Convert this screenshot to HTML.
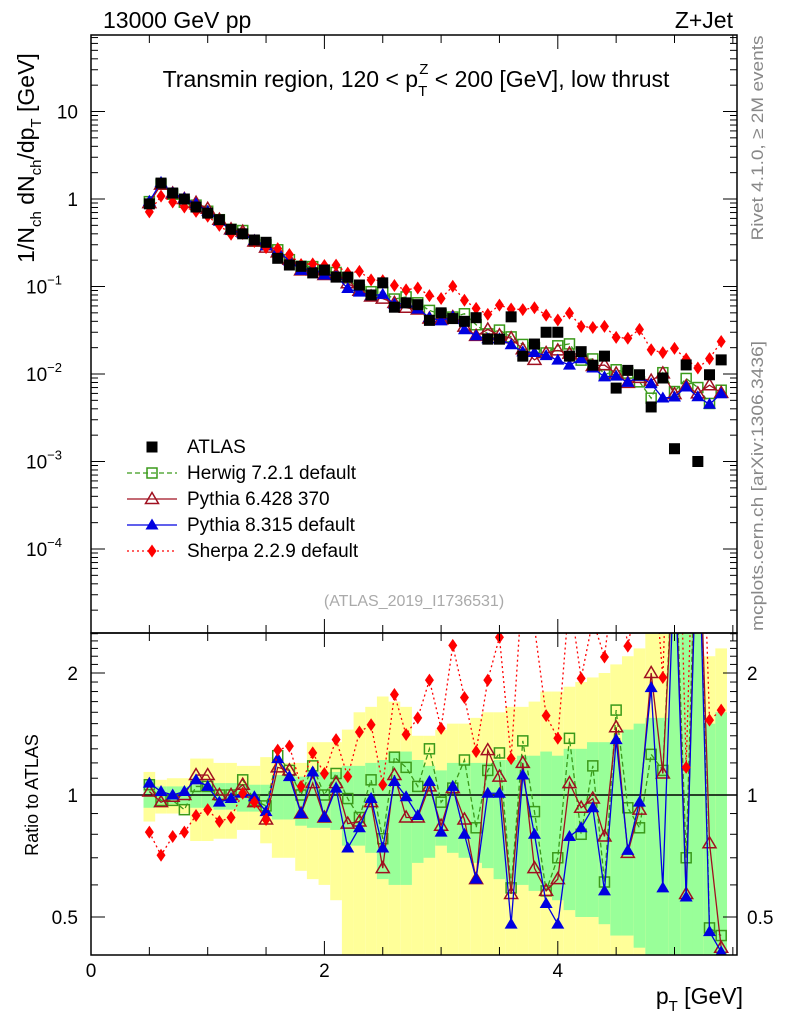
<!DOCTYPE html>
<html><head><meta charset="utf-8"><style>
body{margin:0;background:#fff}
svg{display:block;font-family:"Liberation Sans",Arial,sans-serif}
</style></head><body>
<svg id="chart" width="786" height="1024" viewBox="0 0 786 1024">
<defs>
<clipPath id="cm"><rect x="91" y="35" width="646" height="598"/></clipPath>
<clipPath id="cr"><rect x="91" y="633" width="646" height="322"/></clipPath>
</defs>
<g id="bands" clip-path="url(#cr)"></g>
<g id="ratio" clip-path="url(#cr)"></g>
<g id="main" clip-path="url(#cm)"></g>
<g id="axes"></g>
<text x="103" y="28" font-size="23">13000 GeV pp</text>
<text x="733" y="28" font-size="23" text-anchor="end">Z+Jet</text>
<text x="416" y="87" font-size="23" text-anchor="middle">Transmin region, 120 &lt; p<tspan dy="9" font-size="15">T</tspan><tspan dx="-8" dy="-22" font-size="15">Z</tspan><tspan dy="13"> &lt; 200 [GeV], low thrust</tspan></text>
<text transform="translate(34,158) rotate(-90)" font-size="23" text-anchor="middle">1/N<tspan dy="7" font-size="15">ch</tspan><tspan dy="-7"> dN</tspan><tspan dy="7" font-size="15">ch</tspan><tspan dy="-7">/dp</tspan><tspan dy="7" font-size="15">T</tspan><tspan dy="-7"> [GeV]</tspan></text>
<text transform="translate(38,795) rotate(-90)" font-size="18" text-anchor="middle">Ratio to ATLAS</text>
<text transform="translate(763,138) rotate(-90)" font-size="17" fill="#888" text-anchor="middle" textLength="205" lengthAdjust="spacingAndGlyphs">Rivet 4.1.0, ≥ 2M events</text>
<text transform="translate(763,486) rotate(-90)" font-size="17" fill="#888" text-anchor="middle" textLength="290" lengthAdjust="spacingAndGlyphs">mcplots.cern.ch [arXiv:1306.3436]</text>
<text x="414" y="606" font-size="16" fill="#aaa" text-anchor="middle">(ATLAS_2019_I1736531)</text>
<text x="743" y="1004" font-size="23" text-anchor="end">p<tspan dy="7" font-size="15">T</tspan><tspan dy="-7"> [GeV]</tspan></text>
<g id="legend"></g>
<script>
const xvals=[0.5,0.6,0.7,0.8,0.9,1.0,1.1,1.2,1.3,1.4,1.5,1.6,1.7,1.8,1.9,2.0,2.1,2.2,2.3,2.4,2.5,2.6,2.7,2.8,2.9,3.0,3.1,3.2,3.3,3.4,3.5,3.6,3.7,3.8,3.9,4.0,4.1,4.2,4.3,4.4,4.5,4.6,4.7,4.8,4.9,5.0,5.1,5.2,5.3,5.4];
const atlas=[0.88,1.52,1.17,1.0,0.81,0.69,0.58,0.45,0.40,0.34,0.32,0.21,0.176,0.17,0.143,0.154,0.128,0.128,0.104,0.08,0.11,0.058,0.065,0.062,0.041,0.05,0.043,0.04,0.044,0.025,0.025,0.045,0.016,0.022,0.03,0.03,0.016,0.018,0.0126,0.016,0.0069,0.011,0.0098,0.0042,0.009,0.0014,0.0127,0.001,0.0098,0.0145];
const herwigRatio=[1.06,0.97,0.97,0.92,1.05,1.05,1.0,1.0,1.09,0.97,0.94,1.25,1.15,1.0,1.18,1.0,1.13,0.98,0.88,1.09,0.78,1.24,1.17,1.05,1.30,0.96,1.04,1.22,0.83,1.15,1.27,0.59,1.36,0.91,0.58,0.70,1.38,0.80,1.18,0.61,1.62,0.93,0.83,1.26,1.15,4.5,0.70,7.0,0.47,0.45];
const py6Ratio=[1.02,0.96,0.99,1.0,1.12,1.12,1.0,1.0,1.06,0.96,0.87,1.17,1.15,0.90,1.07,0.88,1.07,0.85,0.86,0.96,0.66,1.12,0.88,0.88,1.05,0.84,1.04,0.87,0.62,1.29,1.11,0.57,1.2,0.66,0.58,0.62,1.07,0.93,0.98,0.79,1.47,0.72,0.92,2.0,1.13,4.2,0.57,6.0,0.76,0.42];
const py8Ratio=[1.07,1.02,1.0,1.02,1.09,1.05,0.96,0.98,1.01,0.99,0.91,1.23,1.11,0.90,1.14,0.88,1.04,0.74,0.83,0.98,0.74,1.08,0.99,0.89,1.08,0.81,1.05,0.80,0.62,1.01,1.01,0.48,1.12,0.80,0.54,0.48,0.79,0.83,0.93,0.58,1.37,0.73,0.96,1.84,0.59,3.9,0.56,5.5,0.46,0.41];
const sherpaRatio=[0.81,0.71,0.79,0.81,0.89,0.92,0.86,0.88,1.01,0.96,0.87,1.29,1.32,1.05,1.27,1.13,1.37,1.11,1.43,1.49,1.06,1.77,1.41,1.55,1.92,1.46,2.34,1.74,1.28,1.92,2.45,1.23,3.4,2.6,1.57,1.38,3.1,1.94,2.7,2.19,3.8,2.33,3.3,4.5,1.95,14,1.17,11.7,1.53,1.62];
const greenHi=[1.09,1.05,1.05,1.05,1.06,1.07,1.07,1.07,1.06,1.06,1.06,1.12,1.12,1.11,1.14,1.14,1.14,1.18,1.18,1.2,1.22,1.28,1.28,1.22,1.18,1.15,1.2,1.2,1.2,1.2,1.22,1.22,1.25,1.25,1.28,1.25,1.3,1.3,1.35,1.35,1.35,1.45,1.5,1.55,1.55,2.5,2.5,2.5,1.5,1.6];
const greenLo=[0.93,0.95,0.95,0.95,0.93,0.93,0.92,0.92,0.91,0.91,0.9,0.87,0.87,0.84,0.83,0.83,0.82,0.75,0.75,0.72,0.62,0.6,0.6,0.68,0.7,0.75,0.72,0.7,0.68,0.66,0.62,0.6,0.6,0.58,0.58,0.55,0.52,0.5,0.5,0.48,0.45,0.45,0.42,0.4,0.4,0.3,0.3,0.3,0.4,0.4];
const yellowHi=[1.14,1.09,1.1,1.1,1.23,1.23,1.2,1.2,1.18,1.18,1.24,1.22,1.2,1.2,1.35,1.35,1.35,1.45,1.6,1.65,1.75,1.7,1.65,1.4,1.4,1.45,1.5,1.5,1.55,1.6,1.6,1.65,1.65,1.7,1.8,1.8,1.85,1.9,1.95,2.0,2.1,2.2,2.3,2.5,2.5,3,3,3,2.2,2.3];
const yellowLo=[0.86,0.9,0.9,0.9,0.77,0.77,0.78,0.78,0.82,0.82,0.76,0.7,0.7,0.65,0.62,0.6,0.55,0.38,0.38,0.3,0.3,0.3,0.3,0.35,0.35,0.4,0.35,0.35,0.33,0.3,0.3,0.3,0.3,0.3,0.3,0.3,0.3,0.3,0.3,0.3,0.3,0.3,0.3,0.3,0.3,0.3,0.3,0.3,0.3,0.3];
const xTickLabels=["0","2","4"];
const ratioTickLabels=["0.5","1","2"];

const NS="http://www.w3.org/2000/svg";
const X=x=>91+116.7*x;
const YM=v=>199-87.5*Math.log10(v);
const YR=r=>795-122*Math.log2(r);
function mk(tag,attrs,parent){const e=document.createElementNS(NS,tag);for(const k in attrs)e.setAttribute(k,attrs[k]);parent.appendChild(e);return e;}
const gB=document.getElementById('bands'),gR=document.getElementById('ratio'),gM=document.getElementById('main'),gA=document.getElementById('axes'),gL=document.getElementById('legend');

xvals.forEach((x,i)=>{
  const x0=X(x-0.05),w=116.7*0.1;
  const y1=mk('rect',{x:x0,y:YR(yellowHi[i]),width:w,height:YR(yellowLo[i])-YR(yellowHi[i]),fill:'#ffff99'},gB);
  
  
  const g1=mk('rect',{x:x0,y:YR(greenHi[i]),width:w,height:YR(greenLo[i])-YR(greenHi[i]),fill:'#99ff99'},gB);
  
  
});
const one=mk('line',{x1:91,x2:737,y1:YR(1),y2:YR(1),stroke:'#000','stroke-width':1.5},gR);



function marker(type,color,cx,cy,parent){
  let e;
  if(type==='sq') e=mk('rect',{x:cx-5,y:cy-5,width:10,height:10,fill:'none',stroke:color,'stroke-width':1.5},parent);
  else if(type==='fsq') e=mk('rect',{x:cx-5.5,y:cy-5.5,width:11,height:11,fill:color},parent);
  else if(type==='otri') e=mk('polygon',{points:`${cx},${cy-6.5} ${cx-6.5},${cy+4.5} ${cx+6.5},${cy+4.5}`,fill:'none',stroke:color,'stroke-width':1.5},parent);
  else if(type==='ftri') e=mk('polygon',{points:`${cx},${cy-6.5} ${cx-6.5},${cy+4.5} ${cx+6.5},${cy+4.5}`,fill:color},parent);
  else e=mk('polygon',{points:`${cx},${cy-6.5} ${cx-4.5},${cy} ${cx},${cy+6.5} ${cx+4.5},${cy}`,fill:color},parent);
  return e;
}
const series=[
 {name:'herwig',label:'Herwig 7.2.1 default',r:herwigRatio,color:'#3a9a1a',dash:'5,3',m:'sq'},
 {name:'pythia6',label:'Pythia 6.428 370',r:py6Ratio,color:'#a01020',dash:'',m:'otri'},
 {name:'pythia8',label:'Pythia 8.315 default',r:py8Ratio,color:'#0000e0',dash:'',m:'ftri'},
 {name:'sherpa',label:'Sherpa 2.2.9 default',r:sherpaRatio,color:'#ff0000',dash:'2,3',m:'dia'}
];
series.forEach(s=>{
  const mainPts=xvals.map((x,i)=>[X(x),YM(atlas[i]*s.r[i])]);
  const ratPts=xvals.map((x,i)=>[X(x),YR(s.r[i])]);
  const pl=mk('polyline',{points:mainPts.map(p=>p.join(',')).join(' '),fill:'none',stroke:s.color,'stroke-width':1.3,'stroke-dasharray':s.dash},gM);
  
  
  const pr=mk('polyline',{points:ratPts.map(p=>p.join(',')).join(' '),fill:'none',stroke:s.color,'stroke-width':1.3,'stroke-dasharray':s.dash},gR);
  
  
  mainPts.forEach(p=>{const e=marker(s.m,s.color,p[0],p[1],gM);
    
    });
  ratPts.forEach(p=>{const e=marker(s.m,s.color,p[0],p[1],gR);
    
    });
});
xvals.forEach((x,i)=>{const e=marker('fsq','#000',X(x),YM(atlas[i]),gM);
  
  });

[[35,633],[633,955]].forEach(([t,b])=>{const f=mk('rect',{x:91,y:t,width:646,height:b-t,fill:'none',stroke:'#000','stroke-width':1.5},gA);
  
  });
for(let k=0;k<=11;k++){const x=k*0.5,px=X(x);if(px>737)break;const L=(k%4===0)?14:8;
  [[35,1],[633,-1],[633,1],[955,-1]].forEach(([y,d])=>mk('line',{x1:px,x2:px,y1:y,y2:y+d*L,stroke:'#000','stroke-width':1},gA));}
xTickLabels.forEach(l=>{const t=mk('text',{x:X(+l),y:977,'font-size':19,'text-anchor':'middle'},gA);t.textContent=l;
  
  });
for(let d=-5;d<=1;d++){for(let m=1;m<=9;m++){const v=m*Math.pow(10,d);const py=YM(v);if(py<35||py>633)continue;const L=m===1?14:7;
  mk('line',{x1:91,x2:91+L,y1:py,y2:py,stroke:'#000'},gA);mk('line',{x1:737,x2:737-L,y1:py,y2:py,stroke:'#000'},gA);}}
const mainLabs=[[1,'10',''],[0,'1',''],[-1,'10','−1'],[-2,'10','−2'],[-3,'10','−3'],[-4,'10','−4']];
mainLabs.forEach(([d,b,e])=>{const py=YM(Math.pow(10,d));const t=mk('text',{x:e?62:78,y:py+7,'font-size':19,'text-anchor':'end'},gA);t.textContent=b;
  
  
  if(e){const s=mk('tspan',{dy:-9,'font-size':13},t);s.textContent=e;}});
for(let k=4;k<=25;k++){const r=k/10;const py=YR(r);if(py<633||py>955)continue;const L=(k===5||k===10||k===20)?14:7;
  mk('line',{x1:91,x2:91+L,y1:py,y2:py,stroke:'#000'},gA);mk('line',{x1:737,x2:737-L,y1:py,y2:py,stroke:'#000'},gA);}
ratioTickLabels.forEach(l=>{const py=YR(+l);
  const t=mk('text',{x:78,y:py+7,'font-size':19,'text-anchor':'end'},gA);t.textContent=l;
  
  
  const t2=mk('text',{x:747,y:py+7,'font-size':19},gA);t2.textContent=l;
  
  });
const legRows=[{label:'ATLAS',m:'fsq',color:'#000',dash:null}].concat(series);
legRows.forEach((s,i)=>{const y=447+26*i;const g=mk('g',{},gL);
  
  
  if(s.dash!==null&&s.dash!==undefined) mk('line',{x1:127,x2:177,y1:y,y2:y,stroke:s.color,'stroke-width':1.3,'stroke-dasharray':s.dash},g);
  marker(s.m,s.color,152,y,g);
  const t=mk('text',{x:187,y:y+6,'font-size':19},g);t.textContent=s.label;});
</script>
</svg>
</body></html>
